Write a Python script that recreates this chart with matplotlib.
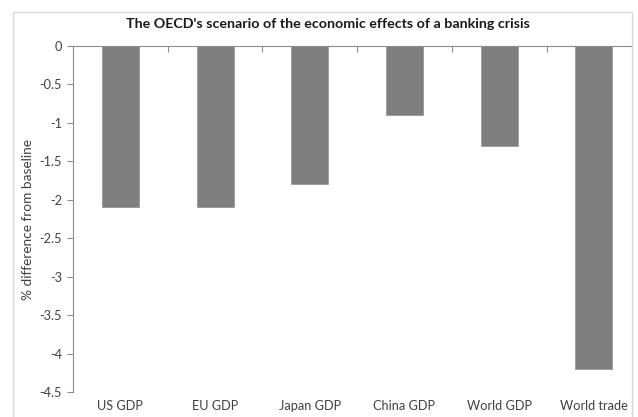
import matplotlib.pyplot as plt
from matplotlib.patches import Rectangle

# Dados do gráfico
categorias = ['US GDP', 'EU GDP', 'Japan GDP', 'China GDP', 'World GDP', 'World trade']
valores = [-2.1, -2.1, -1.8, -0.9, -1.3, -4.2]
yticks = [0, -0.5, -1, -1.5, -2, -2.5, -3, -3.5, -4, -4.5]

plt.rcParams['font.family'] = ['Lato', 'DejaVu Sans']
cor_texto = '#404040'
cor_eixo = '#8c8c8c'

fig = plt.figure(figsize=(6.38, 4.17), dpi=100)
W, H = 638, 417

# moldura cinza clara do gráfico
fig.patches.append(Rectangle((13 / W, -0.1), (632 - 13) / W, 1.1 - 12 / H,
                             transform=fig.transFigure, fill=False,
                             edgecolor='#d9d9d9', linewidth=1))

ax = fig.add_axes([73 / W, 1 - 392 / H, (632 - 73) / W, (392 - 46) / H])
x = list(range(len(categorias)))
ax.bar(x, valores, width=0.39, color='#7f7f7f', edgecolor='#9a9a9a', linewidth=0.6, zorder=2)

ax.set_xlim(-0.5, -0.5 + (632 - 73) / 94.7)
ax.set_ylim(-4.5, 0)
ax.set_yticks(yticks)
ax.set_yticklabels([f'{v:g}' for v in yticks], color=cor_texto, fontsize=9.2)
ax.set_xticks(x)
ax.set_xticklabels(categorias, color=cor_texto, fontsize=9.2)
ax.tick_params(axis='x', length=0, pad=6)
ax.tick_params(axis='y', length=4, color=cor_eixo, width=0.8, pad=4)
ax.set_xticks([i + 0.5 for i in x[:-1]], minor=True)
ax.tick_params(axis='x', which='minor', direction='in', top=True, bottom=False,
               length=4, color=cor_eixo, width=0.8)

for lado in ['bottom', 'right']:
    ax.spines[lado].set_visible(False)
ax.spines['left'].set_color(cor_eixo)
ax.spines['top'].set_color(cor_eixo)
ax.spines['left'].set_linewidth(0.8)
ax.spines['top'].set_linewidth(0.8)

ax.set_ylabel('% difference from baseline', color=cor_texto, fontsize=9.8)
ax.yaxis.set_label_coords((34 - 73) / (632 - 73), 0.5)
fig.text(328 / W, 1 - 24 / H, "The OECD's scenario of the economic effects of a banking crisis",
         ha='center', va='center', fontsize=10.3, fontweight='bold', color='#1a1a1a')

fig.savefig('out.png', dpi=100)
plt.close()
